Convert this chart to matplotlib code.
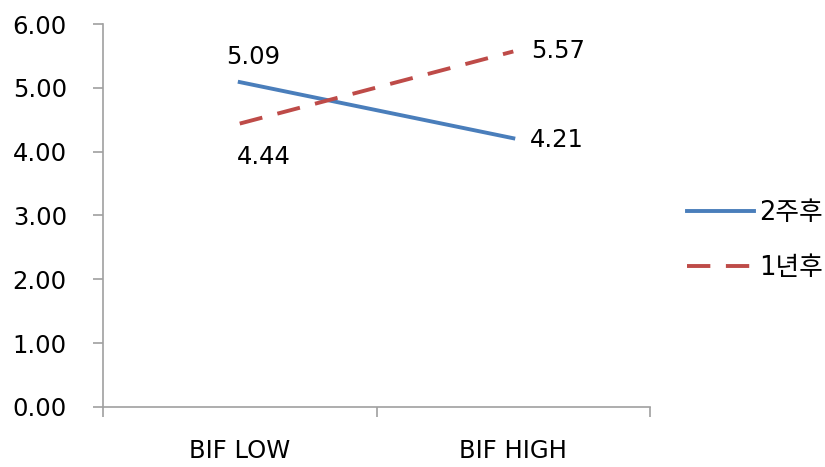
import matplotlib.pyplot as plt

categories = ['BIF LOW', 'BIF HIGH']
week2 = [5.09, 4.21]
year1 = [4.44, 5.57]
series_names = ['2주후', '1년후']
yticks = [0, 1, 2, 3, 4, 5, 6]

plt.rcParams['font.family'] = ['DejaVu Sans', 'Noto Sans CJK KR']

fig = plt.figure(figsize=(8.25, 4.67), dpi=100)
ax = fig.add_axes([0.1248, 0.1285, 0.788 - 0.1248, 0.9486 - 0.1285])

blue = '#4A7EBB'
red = '#BE4B48'
x = [0.5, 1.5]
ax.plot(x, week2, color=blue, lw=2.8, label=series_names[0])
ax.plot(x, year1, color=red, lw=2.8, linestyle=(0, (6, 4)), label=series_names[1])

fs = 17.5
# value labels
ax.annotate('%.2f' % week2[0], (x[0], week2[0]), xytext=(10, 18), textcoords='offset points',
            ha='center', va='center', fontsize=fs)
ax.annotate('%.2f' % year1[0], (x[0], year1[0]), xytext=(17, -24), textcoords='offset points',
            ha='center', va='center', fontsize=fs)
ax.annotate('%.2f' % year1[1], (x[1], year1[1]), xytext=(13, 0), textcoords='offset points',
            ha='left', va='center', fontsize=fs)
ax.annotate('%.2f' % week2[1], (x[1], week2[1]), xytext=(12, -1), textcoords='offset points',
            ha='left', va='center', fontsize=fs)

ax.set_xlim(0, 2)
ax.set_ylim(0, 6)
ax.set_yticks(yticks)
ax.set_yticklabels(['%.2f' % v for v in yticks], fontsize=fs)
ax.set_xticks([0, 1, 2])
ax.set_xticklabels([])
ax.set_xticks(x, minor=True)
ax.set_xticklabels(categories, minor=True, fontsize=fs)

for s in ['top', 'right']:
    ax.spines[s].set_visible(False)
for s in ['left', 'bottom']:
    ax.spines[s].set_color('#A0A0A0')
    ax.spines[s].set_linewidth(1.2)

ax.tick_params(axis='y', length=7, width=1.2, color='#A0A0A0', pad=19)
ax.tick_params(axis='x', which='major', length=7, width=1.2, color='#A0A0A0', direction='out')
ax.tick_params(axis='x', which='minor', length=0, pad=23)

leg = ax.legend(loc='center left', bbox_to_anchor=(1.025, 0.435), frameon=False,
                prop={'size': 18.5}, handlelength=2.6, handletextpad=0.2, labelspacing=1.15)

fig.savefig('out.png', dpi=100)
